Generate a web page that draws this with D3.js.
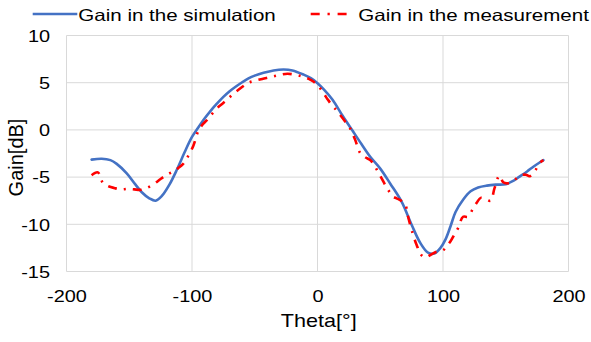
<!DOCTYPE html>
<html>
<head>
<meta charset="utf-8">
<script src="https://cdn.jsdelivr.net/npm/d3@7"></script>
<style>
  body { margin: 0; background: #fff; }
  text { font-family: "Liberation Sans", Arial, sans-serif; fill: #000; }
</style>
</head>
<body>
<svg id="chart" width="591" height="342"></svg>
<script>
// Simulated gain pattern
const thetaSim = [-180,-172,-165,-160,-152,-145,-140,-134,-129,-124,-118,-112,-106,-100,-95,-90,-85,-80,-75,-70,-65,-60,-55,-50,-43,-35,-27,-20,-11,-5,0,5,12,20,28,35,42,50,58,67,75,82,88,93,98,102,106,110,116,122,128,135,142,150,156,161,167,172,177,180];
const gainSim = [-3.15,-3.05,-3.2,-3.6,-4.6,-5.8,-6.6,-7.25,-7.5,-7.0,-5.8,-4.2,-2.4,-0.75,0.25,1.2,2.05,2.8,3.5,4.1,4.6,5.05,5.45,5.75,6.05,6.3,6.4,6.3,5.85,5.45,4.95,4.3,3.2,1.5,-0.1,-1.5,-2.85,-4.1,-5.7,-7.6,-10.05,-12.0,-13.0,-13.1,-12.5,-11.6,-10.2,-8.7,-7.4,-6.5,-6.1,-5.9,-5.8,-5.75,-5.4,-4.95,-4.4,-3.9,-3.45,-3.2];

// Measured gain pattern
const thetaMeas = [-180,-175,-171,-166,-162,-157,-151,-146,-141,-136,-130,-125,-120,-115,-111,-107,-103,-99,-95,-92,-88,-84,-80,-76,-72,-68,-63,-59,-55,-50,-44,-39,-34,-29,-24,-18,-12,-7,-3,1,5,8,11,15,18,22,26,30,34,38,42,45,48,51,54,57,60,63,66,70,72,75,79,83,86,90,95,100,103,106,109,112,116,120,124,127,130,134,138,141,145,148,152,157,162,166,169,173,177,180];
const gainMeas = [-4.8,-4.5,-5.6,-6.0,-6.15,-6.3,-6.25,-6.3,-6.35,-6.15,-5.7,-5.2,-4.75,-4.4,-4.05,-3.6,-2.75,-1.7,-0.1,0.5,1.05,1.7,2.3,2.75,3.2,3.7,4.25,4.65,5.0,5.2,5.4,5.55,5.7,5.85,5.95,5.85,5.65,5.4,5.1,4.6,3.85,3.25,2.7,2.1,1.6,0.9,0.15,-1.05,-2.45,-2.9,-3.2,-3.7,-4.4,-5.1,-5.85,-6.5,-7.05,-7.25,-7.45,-7.95,-9.1,-10.6,-12.2,-13.3,-13.5,-13.25,-12.9,-12.75,-12.3,-11.8,-11.1,-10.4,-9.2,-9.2,-8.3,-7.7,-7.2,-7.35,-7.5,-6.2,-4.85,-5.55,-5.65,-5.3,-4.8,-4.75,-4.9,-4.4,-3.5,-3.2];

const xTicks = [-200, -100, 0, 100, 200];
const yTicks = [-15, -10, -5, 0, 5, 10];
const seriesNames = ["Gain in the simulation", "Gain in the measurement"];
const xTitle = "Theta[°]";
const yTitle = "Gain[dB]";

const blue = "#4472C4", red = "#FF0000", grid = "#D9D9D9";
const stretch = 1.245; // horizontal widening of the label glyphs
const fmt = d => String(d); // plain hyphen-minus for negatives

const svg = d3.select("#chart");
const x = d3.scaleLinear().domain([-200, 200]).range([66.5, 568.5]);
const y = d3.scaleLinear().domain([-15, 10]).range([271.5, 35.5]);

// Gridlines (also frame the plot area)
svg.append("g").selectAll("line").data(yTicks).join("line")
  .attr("x1", x(-200)).attr("x2", x(200))
  .attr("y1", d => y(d)).attr("y2", d => y(d))
  .attr("stroke", grid).attr("stroke-width", 1);
svg.append("g").selectAll("line").data(xTicks).join("line")
  .attr("x1", d => x(d)).attr("x2", d => x(d))
  .attr("y1", y(-15)).attr("y2", y(10))
  .attr("stroke", grid).attr("stroke-width", 1);

// X axis labels
const gx = svg.append("g").attr("transform", `translate(0,${y(-15)})`)
  .call(d3.axisBottom(x).tickValues(xTicks).tickSize(0).tickFormat(fmt));
gx.select(".domain").remove();
gx.selectAll("text")
  .attr("y", 30.2).attr("dy", null)
  .attr("transform", `scale(${stretch},1)`)
  .style("font-size", "16px").attr("fill", "#000")
  .style("font-family", '"Liberation Sans", Arial, sans-serif');

// Y axis labels
const gy = svg.append("g").attr("transform", `translate(${x(-200)},0)`)
  .call(d3.axisLeft(y).tickValues(yTicks).tickSize(0).tickFormat(fmt));
gy.select(".domain").remove();
gy.selectAll("text")
  .attr("x", -16.5 / stretch).attr("dy", "0.36em")
  .attr("transform", `scale(${stretch},1)`)
  .style("font-size", "16px").attr("fill", "#000")
  .style("font-family", '"Liberation Sans", Arial, sans-serif');

// Axis titles
svg.append("text")
  .attr("transform", `translate(318.7,327.3) scale(1.2,1)`)
  .attr("text-anchor", "middle").style("font-size", "18px")
  .text(xTitle);
svg.append("text")
  .attr("transform", `translate(22.5,157.5) rotate(-90)`)
  .attr("text-anchor", "middle").style("font-size", "20px")
  .text(yTitle);

// Series
const line = d3.line().x(d => x(d[0])).y(d => y(d[1])).curve(d3.curveCatmullRom.alpha(0.5));
const simPts = thetaSim.map((t, i) => [t, gainSim[i]]);
const measPts = thetaMeas.map((t, i) => [t, gainMeas[i]]);

svg.append("path").datum(simPts).attr("d", line)
  .attr("fill", "none").attr("stroke", blue).attr("stroke-width", 2.6)
  .attr("stroke-linejoin", "round").attr("stroke-linecap", "round");
svg.append("path").datum(measPts).attr("d", line)
  .attr("fill", "none").attr("stroke", red).attr("stroke-width", 2.6)
  .attr("stroke-dasharray", "9,7,2,7");

// Legend
const legend = svg.append("g");
legend.append("line").attr("x1", 32.7).attr("x2", 77.3).attr("y1", 14).attr("y2", 14)
  .attr("stroke", blue).attr("stroke-width", 2.6);
legend.append("text")
  .attr("transform", `translate(78.3,20.7) scale(${stretch},1)`)
  .style("font-size", "16.5px").text(seriesNames[0]);
legend.append("line").attr("x1", 310.7).attr("x2", 347.3).attr("y1", 14).attr("y2", 14)
  .attr("stroke", red).attr("stroke-width", 2.6).attr("stroke-dasharray", "9,7.8,2.3,7.8");
legend.append("text")
  .attr("transform", `translate(358.3,20.7) scale(${stretch},1)`)
  .style("font-size", "16.5px").text(seriesNames[1]);
</script>
</body>
</html>
